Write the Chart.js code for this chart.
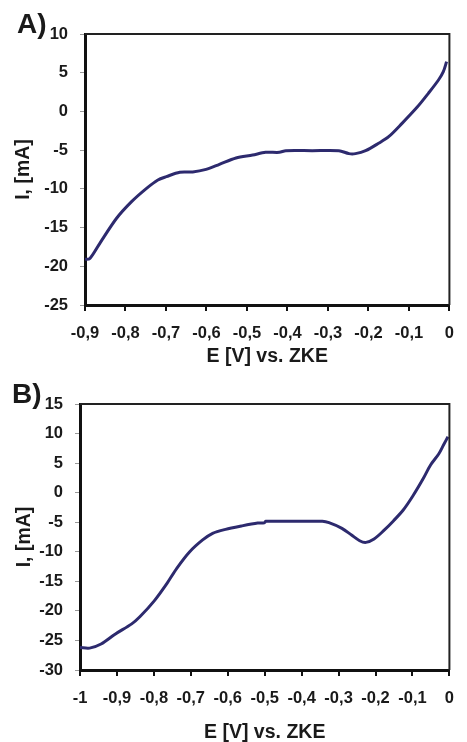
<!DOCTYPE html>
<html>
<head>
<meta charset="utf-8">
<script src="https://cdn.jsdelivr.net/npm/chart.js@4.4.1/dist/chart.umd.min.js"></script>
<style>
  body { margin: 0; background: #fff; }
  .panel { position: absolute; left: 0; width: 467px; height: 371px; }
</style>
</head>
<body>
<div class="panel" style="top:0"><canvas id="chartA" width="467" height="371"></canvas></div>
<div class="panel" style="top:371px"><canvas id="chartB" width="467" height="371"></canvas></div>
<script>
// A) potential [V] vs current [mA]
const potA = [-0.9, -0.888, -0.863, -0.822, -0.785, -0.748, -0.72, -0.699, -0.666, -0.634,
  -0.601, -0.568, -0.527, -0.486, -0.454, -0.42, -0.404, -0.339, -0.273, -0.248,
  -0.232, -0.207, -0.175, -0.15, -0.117, -0.08, -0.052, -0.027, -0.015, -0.007];
const currA = [-19.1, -19.0, -17.0, -13.8, -11.65, -9.93, -8.85, -8.42, -7.86, -7.82,
  -7.48, -6.83, -6.01, -5.63, -5.28, -5.28, -5.07, -5.07, -5.07, -5.45,
  -5.45, -5.07, -4.12, -3.26, -1.54, 0.53, 2.34, 4.06, 5.14, 6.43];

// B)
const potB = [-1.0, -0.974, -0.943, -0.904, -0.86, -0.838, -0.799, -0.764, -0.738, -0.703,
  -0.668, -0.641, -0.606, -0.563, -0.519, -0.501, -0.497, -0.414, -0.344, -0.326,
  -0.291, -0.265, -0.243, -0.226, -0.204, -0.178, -0.151, -0.125, -0.099, -0.072,
  -0.051, -0.029, -0.016, -0.004];
const currB = [-26.2, -26.3, -25.6, -23.9, -22.2, -21.0, -18.3, -15.3, -12.8, -10.0,
  -8.0, -6.88, -6.21, -5.64, -5.14, -5.08, -4.85, -4.85, -4.85, -5.08,
  -6.04, -7.17, -8.13, -8.41, -7.84, -6.43, -4.74, -2.94, -0.57, 2.25,
  4.68, 6.54, 8.06, 9.47];

const xTitle = 'E [V] vs. ZKE';
const yTitle = 'I, [mA]';

Chart.defaults.font.family = '"Liberation Sans", Arial, sans-serif';
Chart.defaults.font.weight = 'bold';
Chart.defaults.color = '#1a1a1a';

function fmt(v) {
  return String(Math.round(v * 10) / 10).replace('.', ',');
}

const frame = {
  id: 'frame',
  afterDatasetsDraw(chart) {
    const a = chart.chartArea;
    const ctx = chart.ctx;
    ctx.save();
    ctx.strokeStyle = '#222';
    ctx.lineWidth = 2;
    ctx.beginPath();
    ctx.moveTo(a.left, a.top);
    ctx.lineTo(a.right, a.top);
    ctx.lineTo(a.right, a.bottom);
    ctx.stroke();
    ctx.restore();
  }
};

const panelLabel = {
  id: 'panelLabel',
  afterDraw(chart, args, opts) {
    const ctx = chart.ctx;
    ctx.save();
    ctx.font = 'bold 28px "Liberation Sans", Arial, sans-serif';
    ctx.fillStyle = '#1a1a1a';
    ctx.textBaseline = 'alphabetic';
    ctx.fillText(opts.text, opts.x, opts.y);
    ctx.restore();
  }
};

function makeChart(id, xs, ys, cfg) {
  return new Chart(document.getElementById(id), {
    type: 'scatter',
    data: {
      datasets: [{
        data: xs.map((x, i) => ({x: x, y: ys[i]})),
        showLine: true,
        borderColor: '#2d2a6e',
        borderWidth: 3,
        pointRadius: 0,
        tension: 0.3
      }]
    },
    options: {
      animation: false,
      responsive: false,
      layout: { padding: { left: 0, right: cfg.padRight, top: cfg.top, bottom: 0 } },
      plugins: {
        legend: { display: false },
        tooltip: { enabled: false },
        panelLabel: { text: cfg.label, x: cfg.labelX, y: cfg.labelY }
      },
      scales: {
        x: {
          type: 'linear',
          min: cfg.xMin,
          max: 0,
          afterFit: (s) => { s.height = cfg.xHeight; },
          border: { display: true, color: '#111', width: 3 },
          grid: { display: true, drawOnChartArea: false, tickLength: 6, color: '#111', lineWidth: 2 },
          ticks: { stepSize: 0.1, padding: 13, font: { size: 16.5 }, callback: (v) => fmt(v), maxRotation: 0, autoSkip: false },
          title: { display: true, text: xTitle, font: { size: 19.5, lineHeight: 1 }, padding: { top: 0, bottom: cfg.xTitlePad } }
        },
        y: {
          min: cfg.yMin,
          max: cfg.yMax,
          afterFit: (s) => { s.width = cfg.yWidth; },
          border: { display: true, color: '#111', width: 3 },
          grid: { display: true, drawOnChartArea: false, tickLength: 5, color: '#999', lineWidth: 1 },
          ticks: { stepSize: 5, padding: 12, font: { size: 16.5 }, callback: (v) => fmt(v) },
          title: { display: true, text: yTitle, font: { size: 19.5, lineHeight: 1 }, padding: { top: cfg.yTitlePad, bottom: 0 } }
        }
      }
    },
    plugins: [frame, panelLabel]
  });
}

makeChart('chartA', potA, currA, {
  label: 'A)', labelX: 17, labelY: 33,
  xMin: -0.9, yMin: -25, yMax: 10,
  top: 34, padRight: 16, yWidth: 85, xHeight: 66,
  xTitlePad: 5, yTitlePad: 14
});

makeChart('chartB', potB, currB, {
  label: 'B)', labelX: 12, labelY: 32,
  xMin: -1, yMin: -30, yMax: 15,
  top: 33, padRight: 6, yWidth: 80, xHeight: 72,
  xTitlePad: 0, yTitlePad: 15
});
</script>
</body>
</html>
